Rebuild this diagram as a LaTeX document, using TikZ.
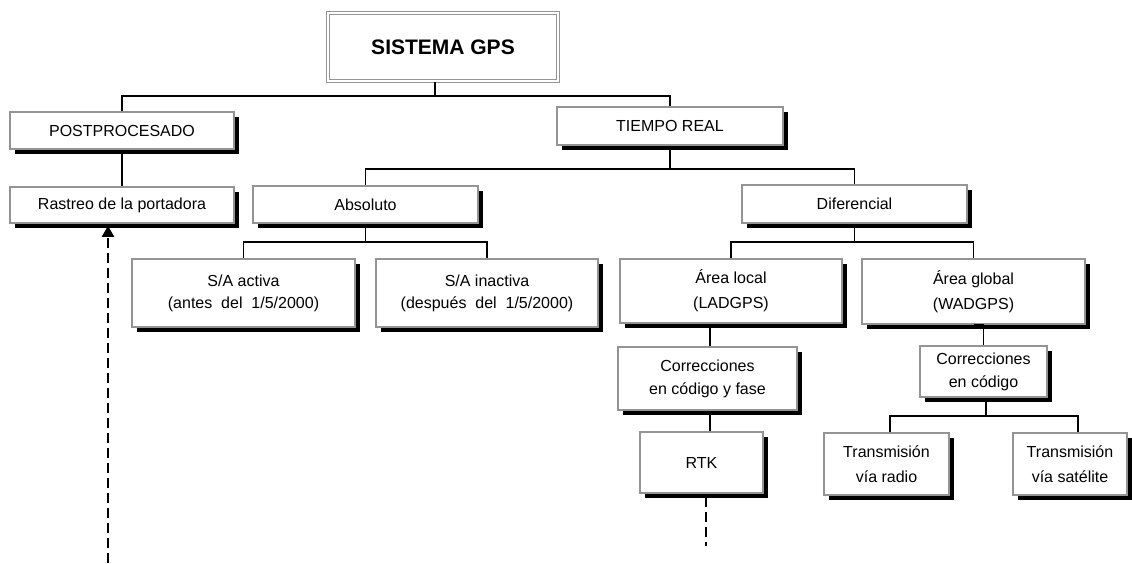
\documentclass[tikz,border=0pt]{standalone}
\usepackage{fontspec}
\setmainfont{Liberation Sans}
\usepackage{tikz}
\usetikzlibrary{arrows.meta,positioning,shadows}
\tikzset{
  gpsbox/.style={
    rectangle, draw=black!42, fill=white, line width=1.6pt,
    inner sep=0pt, align=center,
    font=\fontsize{16}{23}\selectfont,
    drop shadow={shadow xshift=4.5pt,shadow yshift=-4.5pt,opacity=1,fill=black}
  },
  gpsroot/.style={
    rectangle, draw=black!42, fill=white, line width=1.2pt,
    double=white, double distance=2pt, inner sep=0pt,
    font=\fontsize{21}{25}\selectfont\bfseries
  },
  gpsconn/.style={line width=1.5pt},
  gpsdash/.style={line width=2pt,dash pattern=on 10pt off 5pt},
  gpsarrow/.style={gpsdash,-{Triangle[length=11pt,width=12pt]}}
}

\begin{document}
\begin{tikzpicture}[x=1pt,y=-1pt]
  \useasboundingbox (0,0) rectangle (1132,563);
  % Raiz
  \node[gpsroot,minimum width=230,minimum height=68] (gps) at (443,47) {SISTEMA GPS};
  \coordinate (bus1) at (435,96);

  % Postprocesado
  \node[gpsbox,minimum width=224,minimum height=37] (post) at (122,130.5) {POSTPROCESADO};
  \node[gpsbox,minimum width=224,minimum height=36] (rastreo) at (122,205) {Rastreo de la portadora};

  % Tiempo real
  \node[gpsbox,minimum width=226,minimum height=38] (treal) at (670,126) {TIEMPO REAL};
  \coordinate (bus2) at (670,169);
  \node[gpsbox,minimum width=225,minimum height=37] (absol) at (365.5,204.5) {Absoluto};
  \node[gpsbox,minimum width=225,minimum height=38] (difer) at (854.5,204) {Diferencial};

  % Absoluto
  \coordinate (bus3) at (365.5,242);
  \node[gpsbox,minimum width=223,minimum height=68] (saact) at (243.5,293) {S/A activa\\[-1pt](antes\ \ del\ \ 1/5/2000)};
  \node[gpsbox,minimum width=222,minimum height=68] (sainact) at (487,293) {S/A inactiva\\[-1pt](después\ \ del\ \ 1/5/2000)};

  % Diferencial
  \coordinate (bus4) at (854.5,242);
  \node[gpsbox,minimum width=222,minimum height=64] (alocal) at (731,291) {Área local\\[2pt](LADGPS)};
  \node[gpsbox,minimum width=223,minimum height=65] (aglobal) at (973.5,291.5) {Área global\\[2pt](WADGPS)};
  \node[gpsbox,minimum width=179,minimum height=63] (corrfase) at (707.5,378.5) {Correcciones\\en código y fase};
  \node[gpsbox,minimum width=123,minimum height=61] (rtk) at (701.5,462.5) {RTK};
  \node[gpsbox,minimum width=127,minimum height=51] (corrcod) at (983.5,371.5) {Correcciones\\en código};
  \coordinate (bus5) at (986,416);
  \node[gpsbox,minimum width=125,minimum height=62] (tradio) at (886.5,464) {Transmisión\\[2pt]vía radio};
  \node[gpsbox,minimum width=114,minimum height=62] (tsat) at (1070,464) {Transmisión\\[2pt]vía satélite};

  % Conectores
  \draw[gpsconn] ([xshift=-8]gps.south) -- (bus1);
  \draw[gpsconn] (post.north) |- (bus1) -| (treal.north);
  \draw[gpsconn] (post.south) -- (rastreo.north);
  \draw[gpsconn] (treal.south) -- (bus2);
  \draw[gpsconn] (absol.north) |- (bus2) -| (difer.north);
  \draw[gpsconn] (absol.south) -- (bus3);
  \draw[gpsconn] (saact.north) |- (bus3) -| (sainact.north);
  \draw[gpsconn] (difer.south) -- (bus4);
  \draw[gpsconn] (alocal.north) |- (bus4) -| (aglobal.north);
  \draw[gpsconn] ([xshift=2.5]corrfase.north) -- ([xshift=2.5]corrfase.north |- alocal.south);
  \draw[gpsconn] ([xshift=2.5]corrfase.south) -- ([xshift=2.5]corrfase.south |- rtk.north);
  \draw[gpsconn] (aglobal.south) -- (aglobal.south -| corrcod.north) -- (corrcod.north);
  \draw[gpsconn] ([xshift=2.5]corrcod.south) -- (bus5);
  \draw[gpsconn] ([xshift=3.5]tradio.north) |- (bus5) -| ([xshift=8]tsat.north);

  % Lineas discontinuas
  \coordinate (rastend) at (108,563);
  \coordinate (rtkend) at (706,546);
  \draw[gpsarrow] (rastend) -- ([yshift=-2]rastend |- rastreo.south);
  \draw[gpsdash] ([xshift=4.5,yshift=-3]rtk.south) -- (rtkend);
\end{tikzpicture}
\end{document}
